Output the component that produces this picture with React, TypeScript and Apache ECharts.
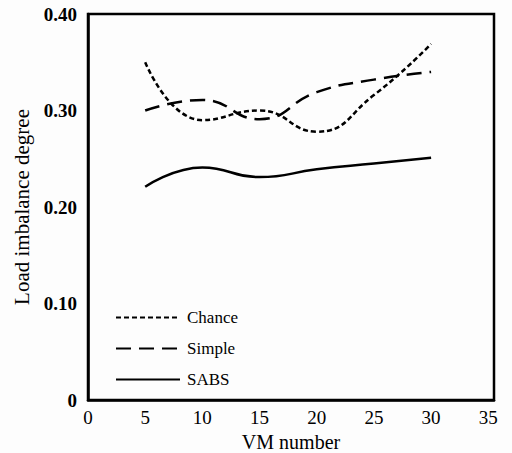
import React, { useEffect, useRef } from "react";
import * as echarts from "echarts";

const vmNumbers = [5, 10, 15, 20, 25, 30];
const chance = [0.35, 0.29, 0.30, 0.278, 0.316, 0.369];
const simple = [0.30, 0.311, 0.291, 0.319, 0.332, 0.34];
const sabs = [0.221, 0.241, 0.231, 0.239, 0.245, 0.251];

const FONT = "'Liberation Serif', 'DejaVu Serif', serif";

export default function App() {
  const ref = useRef<HTMLDivElement>(null);
  useEffect(() => {
    if (!ref.current) return;
    const chart = echarts.init(ref.current, null, { renderer: "svg" });
    const pair = (ys: number[]) => vmNumbers.map((x, i) => [x, ys[i]]);
    chart.setOption({
      animation: false,
      backgroundColor: "#fdfdfd",
      grid: {
        left: 88,
        top: 14,
        right: 18,
        bottom: 53,
        containLabel: false,
        outerBoundsMode: "none",
        show: true,
        borderColor: "#000",
        borderWidth: 2.5,
        backgroundColor: "transparent",
      },
      legend: {
        orient: "vertical",
        left: 110,
        top: 304,
        itemWidth: 64,
        itemHeight: 14,
        itemGap: 14,
        itemStyle: { opacity: 0 },
        textStyle: { fontFamily: FONT, fontSize: 17, color: "#000", padding: [0, 0, 0, 2] },
        data: ["Chance", "Simple", "SABS"],
      },
      xAxis: {
        type: "value",
        min: 0,
        max: 35.5,
        interval: 5,
        name: "VM number",
        nameLocation: "middle",
        nameGap: 32,
        nameTextStyle: { fontFamily: FONT, fontSize: 20, lineHeight: 20, color: "#000" },
        axisLine: { show: true, lineStyle: { color: "#000", width: 2.5 } },
        axisTick: { show: false },
        splitLine: { show: false },
        axisLabel: {
          showMaxLabel: false,
          fontFamily: FONT,
          fontSize: 19,
          color: "#000",
          margin: 8,
        },
      },
      yAxis: {
        type: "value",
        min: 0,
        max: 0.4,
        interval: 0.1,
        name: "Load imbalance degree",
        nameLocation: "middle",
        nameGap: 48,
        nameTextStyle: { fontFamily: FONT, fontSize: 21, color: "#000" },
        axisLine: { show: true, lineStyle: { color: "#000", width: 2.5 } },
        axisTick: { show: false },
        splitLine: { show: false },
        axisLabel: {
          fontFamily: FONT,
          fontSize: 19,
          fontWeight: "bold",
          color: "#000",
          margin: 11,
          formatter: (v: number) => (v === 0 ? "0" : v.toFixed(2)),
        },
      },
      series: [
        {
          name: "Chance",
          type: "line",
          smooth: 0.5,
          symbol: "none",
          data: pair(chance),
          lineStyle: { color: "#000", width: 2.5, type: [5, 3] },
          itemStyle: { color: "#000" },
        },
        {
          name: "Simple",
          type: "line",
          smooth: 0.5,
          symbol: "none",
          data: pair(simple),
          lineStyle: { color: "#000", width: 2.5, type: [15, 8] },
          itemStyle: { color: "#000" },
        },
        {
          name: "SABS",
          type: "line",
          smooth: 0.5,
          symbol: "none",
          data: pair(sabs),
          lineStyle: { color: "#000", width: 2.5 },
          itemStyle: { color: "#000" },
        },
      ],
    });
    return () => chart.dispose();
  }, []);
  return (
    <div
      ref={ref}
      style={{ position: "fixed", left: 0, top: 0, width: 512, height: 453 }}
    />
  );
}
